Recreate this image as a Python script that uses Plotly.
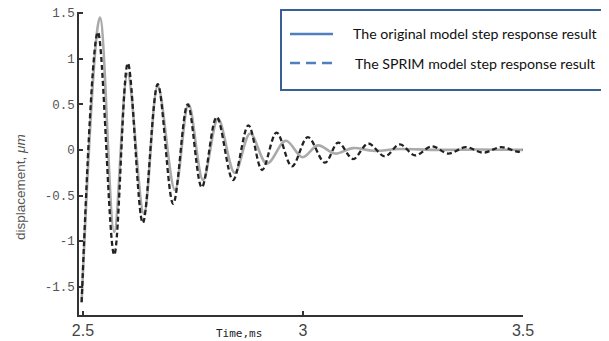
import plotly.graph_objects as go

# ---- data (extrema of each response) ----
t_original = [2.497, 2.5386, 2.571, 2.6015, 2.6386, 2.670, 2.709, 2.740, 2.773, 2.807,
              2.845, 2.880, 2.918, 2.961, 2.999, 3.034, 3.073, 3.114, 3.16, 3.22,
              3.30, 3.40, 3.50]
y_original = [-1.67, 1.45, -0.90, 0.835, -0.70, 0.70, -0.44, 0.50, -0.33, 0.34,
              -0.25, 0.18, -0.15, 0.10, -0.08, 0.05, -0.04, 0.02, -0.01, 0.01,
              0.0, 0.005, 0.0]

t_sprim = [2.497, 2.534, 2.571, 2.602, 2.636, 2.670, 2.705, 2.738, 2.770, 2.804,
           2.841, 2.876, 2.907, 2.940, 2.975, 3.011, 3.050, 3.080, 3.114, 3.148,
           3.186, 3.220, 3.255, 3.293, 3.330, 3.370, 3.410, 3.450, 3.490, 3.500]
y_sprim = [-1.67, 1.29, -1.15, 0.95, -0.80, 0.72, -0.59, 0.50, -0.41, 0.36,
           -0.33, 0.27, -0.22, 0.19, -0.18, 0.14, -0.14, 0.08, -0.10, 0.07,
           -0.07, 0.06, -0.06, 0.04, -0.04, 0.03, -0.03, 0.03, -0.02, 0.0]

x_tickvals = [2.5, 3.0, 3.5]
x_ticktext = ["2.5", "3", "3.5"]
y_tickvals = [-1.5, -1.0, -0.5, 0.0, 0.5, 1.0, 1.5]
y_ticktext = ["-1.5", "-1", "-0.5", "0", "0.5", "1", "1.5"]

legend_labels = ["The original model step response result",
                 "The SPRIM model step response result"]

# ---- figure ----
fig = go.Figure()
fig.add_trace(go.Scatter(x=t_original, y=y_original, mode="lines",
                         line=dict(color="#aaaaaa", width=2.6, shape="spline", smoothing=1.0),
                         showlegend=False, hoverinfo="skip"))
fig.add_trace(go.Scatter(x=t_sprim, y=y_sprim, mode="lines",
                         line=dict(color="#222222", width=2.3, dash="5px,3px",
                                   shape="spline", smoothing=1.0),
                         showlegend=False, hoverinfo="skip"))

# page body has an 8px default margin: compensate so the plot lands in place
OFF = 8
W, H = 609 - OFF, 341 - OFF
Y0, Y1 = 12, 315          # plot area top/bottom in window pixels
X0, X1 = 79, 523          # plot area left/right in window pixels
ml, mt = X0 - OFF, Y0 - OFF
mr = W - ml - (X1 - X0)
mb = H - mt - (Y1 - Y0)

fig.update_layout(
    template="none",
    width=W, height=H,
    margin=dict(l=ml, r=mr, t=mt, b=mb, autoexpand=False),
    paper_bgcolor="white", plot_bgcolor="white",
    showlegend=False,
)
fig.update_xaxes(range=[2.491, 3.5], showgrid=False, zeroline=False, automargin=False,
                 showline=True, linecolor="#333333", linewidth=1.5, mirror=False,
                 ticks="inside", ticklen=4, tickwidth=1.5, tickcolor="#333333",
                 tickvals=x_tickvals, ticktext=x_ticktext,
                 tickfont=dict(family="Liberation Sans, Arial", size=16, color="#444444"))
fig.update_yaxes(range=[-1.81, 1.512], showgrid=False, zeroline=False, automargin=False,
                 showline=True, linecolor="#333333", linewidth=1.5, mirror=False,
                 ticks="inside", ticklen=4, tickwidth=1.5, tickcolor="#333333",
                 tickvals=y_tickvals, ticktext=y_ticktext, ticklabeloverflow="allow",
                 tickfont=dict(family="Liberation Mono, DejaVu Sans Mono", size=12.5, color="#555555"))

pw, ph = X1 - X0, Y1 - Y0
def px(xw): return (xw - X0) / pw          # window px -> paper x
def py(yw): return (Y1 - yw) / ph          # window px -> paper y

# axis titles
fig.add_annotation(text="displacement, <i>μm</i>", xref="paper", yref="paper",
                   x=px(20), y=py(187), textangle=-90, showarrow=False,
                   xanchor="center", yanchor="middle",
                   font=dict(family="Liberation Sans, Arial", size=13.5, color="#555555"))
fig.add_annotation(text="Time,ms", xref="paper", yref="paper",
                   x=px(239), y=py(333), showarrow=False, xanchor="center", yanchor="middle",
                   font=dict(family="DejaVu Sans Mono, Liberation Mono", size=11, color="#222222"))

# legend box
fig.add_shape(type="rect", xref="paper", yref="paper",
              x0=px(281), x1=px(605), y0=py(90), y1=py(10),
              line=dict(color="#3a5f96", width=2), fillcolor="white", layer="above")
legend_dash = ["solid", "10px,6px"]
for i, (lab, dsh) in enumerate(zip(legend_labels, legend_dash)):
    yy = 34 + i * 29
    fig.add_shape(type="line", xref="paper", yref="paper",
                  x0=px(290), x1=px(333), y0=py(yy), y1=py(yy),
                  line=dict(color="#4f7fbf", width=2.5, dash=dsh), layer="above")
    fig.add_annotation(text=lab, xref="paper", yref="paper",
                       x=px(351 if i == 0 else 353), y=py(yy), xanchor="left", yanchor="middle",
                       showarrow=False,
                       font=dict(family="Lato, Open Sans, sans-serif", size=14.2, color="#111111"))

fig.write_html("out.html")
